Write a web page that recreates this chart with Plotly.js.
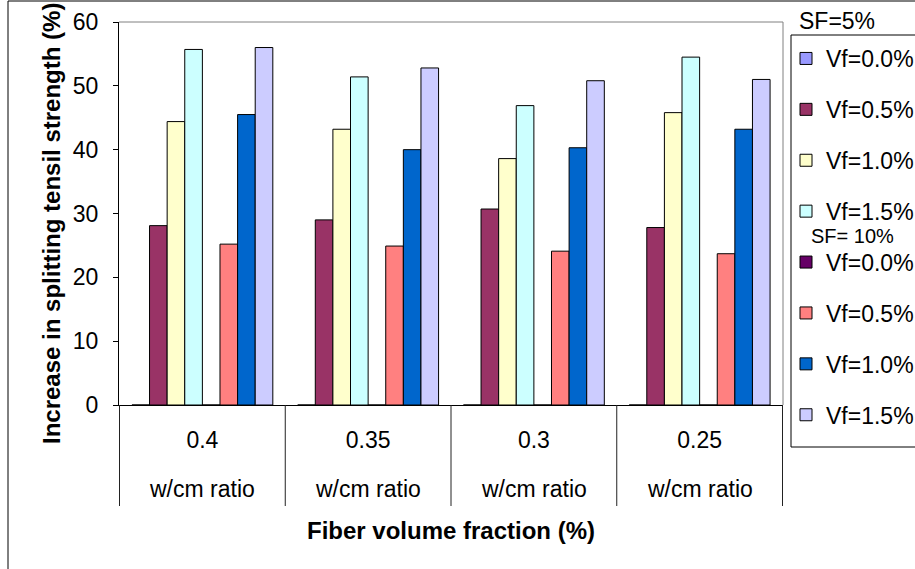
<!DOCTYPE html>
<html>
<head>
<meta charset="utf-8">
<script src="https://cdn.plot.ly/plotly-3.0.1.min.js"></script>
<style>html,body{margin:0;padding:0;background:#fff;}#chart{width:915px;height:569px;}</style>
</head>
<body>
<div id="chart"></div>
<script>
// ---- data ----
const categories = ['0.4', '0.35', '0.3', '0.25'];
const subLabel = 'w/cm ratio';
const seriesNames = ['Vf=0.0%', 'Vf=0.5%', 'Vf=1.0%', 'Vf=1.5%', 'Vf=0.0%', 'Vf=0.5%', 'Vf=1.0%', 'Vf=1.5%'];
const sf5_vf00 = [0, 0, 0, 0];
const sf5_vf05 = [28.1, 29.0, 30.7, 27.8];
const sf5_vf10 = [44.4, 43.2, 38.6, 45.8];
const sf5_vf15 = [55.7, 51.4, 46.9, 54.5];
const sf10_vf00 = [0, 0, 0, 0];
const sf10_vf05 = [25.2, 24.9, 24.1, 23.7];
const sf10_vf10 = [45.5, 40.0, 40.3, 43.2];
const sf10_vf15 = [56.0, 52.8, 50.8, 51.0];
const groupTitles = ['SF=5%', 'SF= 10%'];
const yTitle = 'Increase in splitting tensil strength (%)';
const xTitle = 'Fiber volume fraction (%)';

// ---- styles ----
const colors = ['#9999FF', '#993366', '#FFFFCC', '#CCFFFF', '#660066', '#FF8080', '#0066CC', '#CCCCFF'];
const FONT = 'Arial, "Liberation Sans", sans-serif';
const allSeries = [sf5_vf00, sf5_vf05, sf5_vf10, sf5_vf15, sf10_vf00, sf10_vf05, sf10_vf10, sf10_vf15];

const traces = allSeries.map((vals, i) => ({
  type: 'bar',
  x: categories,
  y: vals,
  name: seriesNames[i],
  legendgroup: 'g' + i,
  marker: {color: colors[i], line: {color: '#000', width: 1}},
  hoverinfo: 'y'
}));

// geometry helpers (paper coordinates)
const W = 915, H = 569, ML = 119, MR = 132, MT = 22, MB = 164;
const PW = W - ML - MR, PH = H - MT - MB;
const px = x => (x - ML) / PW;
const py = y => (H - MB - y) / PH;

const shapes = [];
// plot border top/right (gray)
shapes.push({type: 'line', xref: 'paper', yref: 'paper', x0: 0, x1: 1, y0: 1, y1: 1, line: {color: '#808080', width: 1}});
shapes.push({type: 'line', xref: 'paper', yref: 'paper', x0: 1, x1: 1, y0: 0, y1: 1, line: {color: '#808080', width: 1}});
// category dividers below axis
for (let i = 0; i <= categories.length; i++) {
  shapes.push({type: 'line', xref: 'x', yref: 'paper', x0: i - 0.5, x1: i - 0.5, y0: 0, y1: py(506), line: {color: '#222', width: 1}});
}
// outer chart frame
shapes.push({type: 'rect', xref: 'paper', yref: 'paper', x0: px(8), x1: px(925), y0: py(580), y1: py(1), line: {color: '#000', width: 1}});
// legend frame
shapes.push({type: 'rect', xref: 'paper', yref: 'paper', x0: px(791), x1: px(925), y0: py(447), y1: py(35), line: {color: '#000', width: 1}});

const annotations = categories.map((c, i) => ({
  x: i, xref: 'x', y: py(489), yref: 'paper', text: subLabel, showarrow: false,
  xanchor: 'center', yanchor: 'middle', font: {family: FONT, size: 23, color: '#000'}
}));
annotations.push({x: px(797), xref: 'paper', y: py(21), yref: 'paper', text: groupTitles[0], showarrow: false,
  xanchor: 'left', yanchor: 'middle', font: {family: FONT, size: 23, color: '#000'}});
annotations.push({x: px(809), xref: 'paper', y: py(236), yref: 'paper', text: groupTitles[1], showarrow: false,
  xanchor: 'left', yanchor: 'middle', font: {family: FONT, size: 20, color: '#000'}});
// y-axis title
annotations.push({x: px(51), xref: 'paper', y: py(224), yref: 'paper', text: '<b>' + yTitle + '</b>', showarrow: false,
  textangle: -90, xanchor: 'center', yanchor: 'middle', font: {family: FONT, size: 24, color: '#000'}});

const layout = {
  width: W, height: H,
  margin: {l: ML, r: MR, t: MT, b: MB, autoexpand: false},
  paper_bgcolor: '#fff', plot_bgcolor: '#fff',
  font: {family: FONT, size: 23, color: '#000'},
  barmode: 'group', bargap: 0.15, bargroupgap: 0,
  showlegend: true,
  legend: {
    x: px(786), xanchor: 'left', y: py(37), yanchor: 'top',
    bgcolor: 'rgba(0,0,0,0)', borderwidth: 0, tracegroupgap: 18, maxheight: 520,
    font: {family: FONT, size: 23, color: '#000'}, itemwidth: 30, traceorder: 'grouped'
  },
  xaxis: {
    type: 'category', showline: true, linecolor: '#000', linewidth: 1, ticks: '',
    showgrid: false, zeroline: false, tickfont: {family: FONT, size: 23, color: '#000'},
    ticklabelstandoff: 14,
    title: {text: '<b>' + xTitle + '</b>', font: {family: FONT, size: 24, color: '#000'}, standoff: 70}
  },
  yaxis: {
    range: [0, 60], dtick: 10, showline: true, linecolor: '#000', linewidth: 1,
    ticks: 'outside', ticklen: 5, tickcolor: '#000', showgrid: false, zeroline: false,
    tickfont: {family: FONT, size: 23, color: '#000'}, ticklabelstandoff: 10
  },
  shapes: shapes,
  annotations: annotations
};

Plotly.newPlot('chart', traces, layout, {displayModeBar: false, staticPlot: true});
</script>
</body>
</html>
